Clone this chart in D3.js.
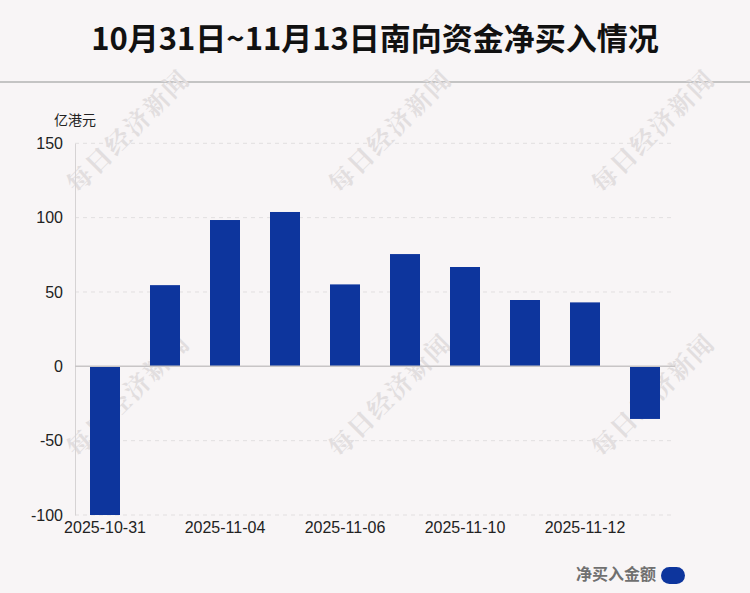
<!DOCTYPE html>
<html><head><meta charset="utf-8">
<script src="https://cdn.jsdelivr.net/npm/d3@7"></script>
<style>html,body{margin:0;padding:0;background:#f8f5f6;}svg{display:block;}</style>
</head><body>
<script>
const categories = ["2025-10-31","2025-11-03","2025-11-04","2025-11-05","2025-11-06","2025-11-07","2025-11-10","2025-11-11","2025-11-12","2025-11-13"];
const netBuy = [-100.0, 54.6, 98.4, 103.8, 55.1, 75.5, 66.8, 44.6, 43.0, -35.4];
const yTicks = [-100, -50, 0, 50, 100, 150];
const title = "10月31日~11月13日南向资金净买入情况";
const unitLabel = "亿港元";
const seriesName = "净买入金额";

(function () {
const W = 750, H = 593;
const svg = d3.select("body").append("svg").attr("width", W).attr("height", H);
svg.append("rect").attr("width", W).attr("height", H).attr("fill", "#f8f5f6");

const font = "'Liberation Sans', Arial, sans-serif";
svg.append("text").attr("x", 375).attr("y", 50).attr("text-anchor", "middle")
  .attr("font-family", "'Noto Sans CJK SC', sans-serif").attr("font-weight", "bold")
  .attr("font-size", 31).attr("fill", "#111").text(title);
svg.append("line").attr("x1", 0).attr("x2", W).attr("y1", 82).attr("y2", 82)
  .attr("stroke", "#c4c4c4").attr("stroke-width", 2);

// watermarks
const wmPos = [[130,133],[392,133],[655,133],[130,397],[392,397],[655,397]];
wmPos.forEach(p => {
  svg.append("text").attr("transform", `translate(${p[0]},${p[1]}) rotate(-45)`)
    .attr("text-anchor", "middle").attr("dominant-baseline", "middle")
    .attr("font-family", "'Noto Serif CJK SC', 'Noto Sans CJK SC', serif").attr("font-weight", "bold")
    .attr("font-size", 25).attr("fill", "#e2dedf").attr("letter-spacing", 2).text("每日经济新闻");
});

const pLeft = 75, pRight = 675, pTop = 143.3, pBottom = 515;
const x = d3.scaleBand().domain(categories).range([pLeft, pRight]).paddingInner(0.5).paddingOuter(0.25);
const y = d3.scaleLinear().domain([-100, 150]).range([pBottom, pTop]);

// gridlines
svg.selectAll(".grid").data(yTicks.filter(d => d !== 0)).enter().append("line")
  .attr("x1", pLeft).attr("x2", pRight).attr("y1", d => y(d)).attr("y2", d => y(d))
  .attr("stroke", "#e2dfe0").attr("stroke-dasharray", "4,4").attr("stroke-width", 1);

// y axis
const yAxis = d3.axisLeft(y).tickValues(yTicks).tickSize(0).tickPadding(12).tickFormat(d => String(d));
const ya = svg.append("g").attr("transform", `translate(${pLeft},0)`).call(yAxis);
ya.select(".domain").attr("stroke", "#d6d3d4");
ya.selectAll("text").attr("font-family", font).attr("font-size", 16).attr("fill", "#222");

svg.append("text").attr("x", 54).attr("y", 125).attr("font-family", "'Noto Sans CJK SC', sans-serif")
  .attr("font-size", 14).attr("fill", "#222").text(unitLabel);

// bars
svg.selectAll(".bar").data(netBuy).enter().append("rect")
  .attr("x", (d, i) => x(categories[i])).attr("width", x.bandwidth())
  .attr("y", d => y(Math.max(0, d))).attr("height", d => Math.abs(y(d) - y(0)))
  .attr("fill", "#0d359d");

// zero line
svg.append("line").attr("x1", pLeft).attr("x2", pRight).attr("y1", y(0)).attr("y2", y(0))
  .attr("stroke", "#c8c5c6").attr("stroke-width", 1.5);

// x axis
const xAxis = d3.axisBottom(x).tickValues(categories.filter((d, i) => i % 2 === 0)).tickSize(0).tickPadding(7);
const xa = svg.append("g").attr("transform", `translate(0,${pBottom})`).call(xAxis);
xa.select(".domain").remove();
xa.selectAll("text").attr("font-family", font).attr("font-size", 16).attr("fill", "#222");

// legend
svg.append("text").attr("x", 656).attr("y", 580).attr("text-anchor", "end")
  .attr("font-family", "'Noto Sans CJK SC', sans-serif").attr("font-weight", "bold")
  .attr("font-size", 16).attr("fill", "#707070").text(seriesName);
svg.append("rect").attr("x", 661).attr("y", 567).attr("width", 24).attr("height", 17).attr("rx", 8.5)
  .attr("fill", "#0d359d");
})();
</script>
</body></html>
